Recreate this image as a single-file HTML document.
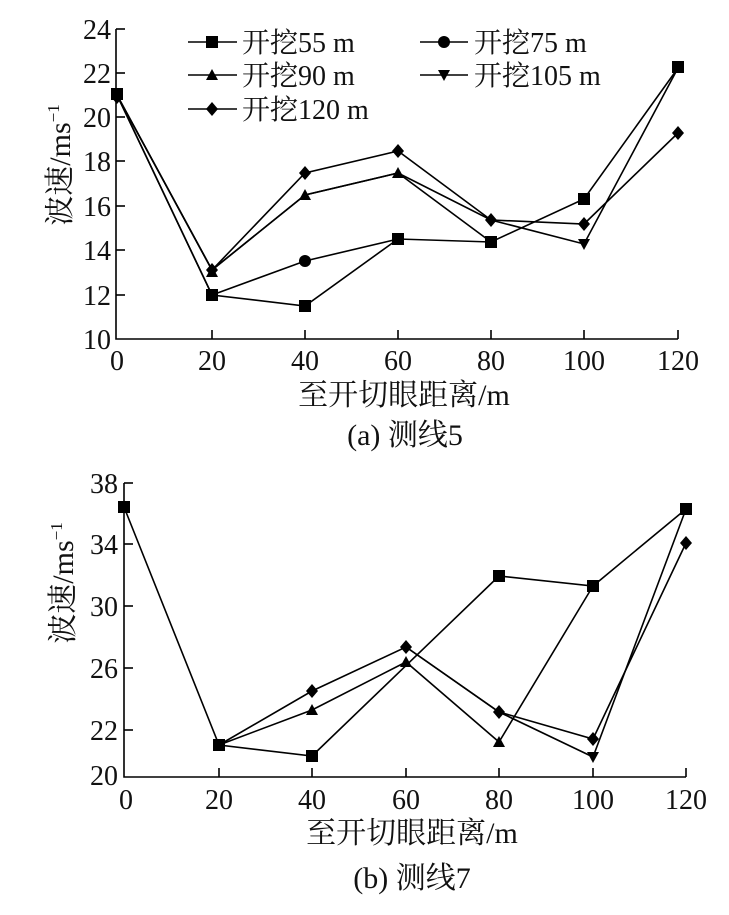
<!DOCTYPE html>
<html><head><meta charset="utf-8"><style>
body{margin:0;background:#fff}
svg{display:block}
text{font-family:"Liberation Serif","Noto Serif CJK SC","Noto Sans CJK SC",serif;fill:#111}
</style></head><body>
<svg width="729" height="915" viewBox="0 0 729 915" xmlns="http://www.w3.org/2000/svg">
<defs>
<g id="sq"><rect x="-6" y="-6" width="12" height="12" fill="#000"/></g>
<g id="ci"><circle r="6" fill="#000"/></g>
<g id="tu"><polygon points="0,-6 6,5 -6,5" fill="#000"/></g>
<g id="td"><polygon points="0,6 6,-5 -6,-5" fill="#000"/></g>
<g id="di"><polygon points="0,-7 6,0 0,7 -6,0" fill="#000"/></g>
</defs>
<!-- TOP CHART -->
<g stroke="#000" stroke-width="1.6" fill="none">
<polyline points="116,29 116,339 678,339"/>
<line x1="116" y1="29" x2="125" y2="29"/><line x1="116" y1="73" x2="125" y2="73"/><line x1="116" y1="117" x2="125" y2="117"/><line x1="116" y1="161" x2="125" y2="161"/><line x1="116" y1="206" x2="125" y2="206"/><line x1="116" y1="250" x2="125" y2="250"/><line x1="116" y1="295" x2="125" y2="295"/>
<line x1="212" y1="339" x2="212" y2="330"/><line x1="305" y1="339" x2="305" y2="330"/><line x1="398" y1="339" x2="398" y2="330"/><line x1="491" y1="339" x2="491" y2="330"/><line x1="584" y1="339" x2="584" y2="330"/><line x1="678" y1="339" x2="678" y2="330"/>
</g>
<g font-size="28" text-anchor="end">
<text x="111" y="39">24</text><text x="111" y="83">22</text><text x="111" y="127">20</text><text x="111" y="171">18</text><text x="111" y="216">16</text><text x="111" y="260">14</text><text x="111" y="305">12</text><text x="111" y="349">10</text>
</g>
<g font-size="28" text-anchor="middle">
<text x="117" y="370">0</text><text x="212" y="370">20</text><text x="305" y="370">40</text><text x="398" y="370">60</text><text x="491" y="370">80</text><text x="584" y="370">100</text><text x="678" y="370">120</text>
</g>
<g font-size="30" text-anchor="middle">
<text x="404" y="405">至开切眼距离/m</text>
<text x="405" y="445">(a)  测线5</text>
</g>
<text font-size="30" transform="translate(70,165) rotate(-90)" text-anchor="middle">波速/ms<tspan font-size="17" dy="-11">−1</tspan></text>
<g stroke="#000" stroke-width="1.6" fill="none">
<polyline points="117,95 212,295 305,306 398,239 491,242 584,199 678,68"/>
<polyline points="117,95 212,295 305,261 398,239"/>
<polyline points="117,95 212,270 305,195 398,173 491,242"/>
<polyline points="117,95 212,270 305,195 398,173 491,220 584,244 678,68"/>
<polyline points="117,95 212,270 305,173 398,151 491,220 584,224 678,133"/>
</g>
<g>
<use href="#sq" x="117" y="94"/><use href="#di" x="117" y="97"/>
<use href="#sq" x="212" y="295"/><use href="#di" x="212" y="270"/><use href="#tu" x="212" y="272"/>
<use href="#sq" x="305" y="306"/><use href="#ci" x="305" y="261"/><use href="#tu" x="305" y="195"/><use href="#di" x="305" y="173"/>
<use href="#sq" x="398" y="239"/><use href="#tu" x="398" y="173"/><use href="#di" x="398" y="151"/>
<use href="#sq" x="491" y="242"/><use href="#di" x="491" y="220"/>
<use href="#sq" x="584" y="199"/><use href="#td" x="584" y="244"/><use href="#di" x="584" y="224"/>
<use href="#sq" x="678" y="67"/><use href="#di" x="678" y="133"/>
</g>
<!-- legend -->
<g stroke="#000" stroke-width="1.6">
<line x1="188" y1="42" x2="237" y2="42"/><line x1="188" y1="75" x2="237" y2="75"/><line x1="188" y1="109" x2="237" y2="109"/>
<line x1="420" y1="42" x2="468" y2="42"/><line x1="420" y1="75" x2="468" y2="75"/>
</g>
<use href="#sq" x="212" y="42"/><use href="#tu" x="212" y="75"/><use href="#di" x="212" y="109"/>
<use href="#ci" x="444" y="42"/><use href="#td" x="444" y="75"/>
<g font-size="28">
<text x="242" y="52">开挖55 m</text><text x="242" y="85">开挖90 m</text><text x="242" y="119">开挖120 m</text>
<text x="474" y="52">开挖75 m</text><text x="474" y="85">开挖105 m</text>
</g>
<!-- BOTTOM CHART -->
<g stroke="#000" stroke-width="1.6" fill="none">
<polyline points="124,483 124,777 686,777"/>
<line x1="124" y1="483" x2="133" y2="483"/><line x1="124" y1="544" x2="133" y2="544"/><line x1="124" y1="606" x2="133" y2="606"/><line x1="124" y1="668" x2="133" y2="668"/><line x1="124" y1="730" x2="133" y2="730"/>
<line x1="219" y1="777" x2="219" y2="768"/><line x1="312" y1="777" x2="312" y2="768"/><line x1="406" y1="777" x2="406" y2="768"/><line x1="499" y1="777" x2="499" y2="768"/><line x1="593" y1="777" x2="593" y2="768"/><line x1="686" y1="777" x2="686" y2="768"/>
</g>
<g font-size="28" text-anchor="end">
<text x="118" y="493">38</text><text x="118" y="554">34</text><text x="118" y="616">30</text><text x="118" y="678">26</text><text x="118" y="740">22</text><text x="118" y="785">20</text>
</g>
<g font-size="28" text-anchor="middle">
<text x="126" y="809">0</text><text x="219" y="809">20</text><text x="312" y="809">40</text><text x="406" y="809">60</text><text x="499" y="809">80</text><text x="593" y="809">100</text><text x="686" y="809">120</text>
</g>
<g font-size="30" text-anchor="middle">
<text x="412" y="843">至开切眼距离/m</text>
<text x="412" y="888">(b)  测线7</text>
</g>
<text font-size="30" transform="translate(73,583) rotate(-90)" text-anchor="middle">波速/ms<tspan font-size="17" dy="-11">−1</tspan></text>
<g stroke="#000" stroke-width="1.6" fill="none">
<polyline points="124,507 219,745 312,756 499,576 593,586 686,509"/>
<polyline points="219,745 312,710 406,662 499,742 593,586"/>
<polyline points="219,745 312,691 406,647 499,712 593,739 686,543"/>
<polyline points="406,647 499,712 593,757 686,509"/>
</g>
<g>
<use href="#sq" x="124" y="507"/><use href="#sq" x="219" y="745"/><use href="#sq" x="312" y="756"/>
<use href="#tu" x="312" y="710"/><use href="#di" x="312" y="691"/>
<use href="#tu" x="406" y="662"/><use href="#di" x="406" y="647"/>
<use href="#sq" x="499" y="576"/><use href="#tu" x="499" y="742"/><use href="#di" x="499" y="712"/>
<use href="#sq" x="593" y="586"/><use href="#di" x="593" y="739"/><use href="#td" x="593" y="757"/>
<use href="#sq" x="686" y="509"/><use href="#di" x="686" y="543"/>
</g>
</svg>
</body></html>
